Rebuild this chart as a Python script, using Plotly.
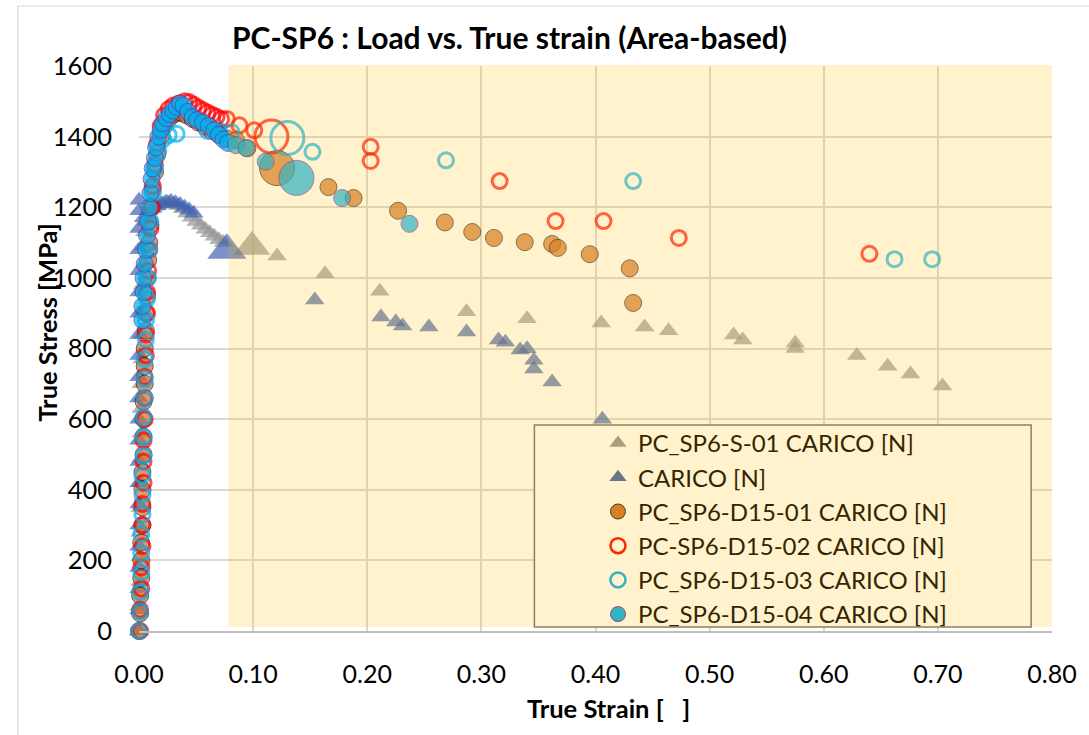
import plotly.graph_objects as go

# ---------------- data ----------------
s01_x = [0.000, 0.000, 0.001, 0.001, 0.001, 0.001, 0.002, 0.002, 0.002, 0.002, 0.002, 0.003, 0.003, 0.003,
         0.003, 0.004, 0.004, 0.005, 0.006, 0.008, 0.011, 0.014, 0.018, 0.022, 0.026, 0.030, 0.034, 0.038,
         0.042, 0.046, 0.050, 0.054, 0.058, 0.062, 0.066, 0.070, 0.074,
         0.099, 0.121, 0.163, 0.211, 0.287, 0.340, 0.405, 0.443, 0.464, 0.521, 0.529, 0.575, 0.575, 0.629,
         0.656, 0.676, 0.704]
s01_y = [0, 70, 140, 210, 280, 350, 420, 490, 560, 630, 700, 770, 840, 910,
         980, 1040, 1090, 1130, 1160, 1180, 1195, 1203, 1208, 1211, 1212, 1210, 1205, 1196,
         1184, 1172, 1160, 1149, 1138, 1128, 1118, 1108, 1100,
         1088, 1062, 1012, 962, 904, 884, 872, 861, 850, 838, 824, 815, 800, 780,
         750, 728, 694]

carico_x = [0.000, 0.000, 0.000, 0.000, 0.000, 0.000, 0.000, 0.000, 0.000, 0.000, 0.000, 0.000, 0.000,
            0.000, 0.000, 0.000, 0.000, 0.000, 0.000, 0.000, 0.000, 0.000,
            0.004, 0.008, 0.012, 0.016, 0.020, 0.024, 0.028, 0.032, 0.036, 0.040, 0.044, 0.048,
            0.077,
            0.154, 0.212, 0.225, 0.231, 0.254, 0.287, 0.315, 0.321, 0.334, 0.340, 0.346, 0.346, 0.362, 0.406]
carico_y = [0, 60, 120, 180, 240, 300, 360, 420, 480, 540, 600, 660, 720,
            780, 840, 900, 960, 1020, 1080, 1140, 1190, 1220,
            1170, 1190, 1198, 1204, 1210, 1215, 1216, 1213, 1208, 1200, 1192, 1183,
            1078,
            937, 889, 875, 864, 861, 847, 824, 818, 796, 799, 767, 742, 705, 600]

d1_x = [0.000, 0.001, 0.001, 0.002, 0.002, 0.002, 0.003, 0.003, 0.003, 0.003, 0.004, 0.004, 0.004, 0.004,
        0.005, 0.005, 0.005, 0.006, 0.006, 0.007, 0.007, 0.008, 0.009, 0.010, 0.011, 0.012, 0.014, 0.016,
        0.019, 0.022, 0.026, 0.030, 0.034, 0.038, 0.042, 0.047, 0.052, 0.058, 0.064, 0.070, 0.077,
        0.085, 0.095, 0.121, 0.166, 0.188, 0.227, 0.268, 0.292, 0.311, 0.338, 0.362, 0.367, 0.395,
        0.430, 0.433]
d1_y = [0, 50, 100, 150, 200, 250, 300, 350, 400, 450, 500, 550, 600, 650,
        700, 750, 800, 850, 900, 950, 1000, 1050, 1100, 1150, 1200, 1250, 1300, 1350,
        1400, 1430, 1450, 1462, 1468, 1466, 1460, 1450, 1440, 1428, 1416, 1405, 1395,
        1390, 1367, 1311, 1257, 1226, 1190, 1157, 1130, 1113, 1101, 1096, 1085, 1067,
        1027, 929]

d2_x = [0.001, 0.001, 0.002, 0.002, 0.003, 0.003, 0.003, 0.004, 0.004, 0.004, 0.005, 0.005, 0.005, 0.006,
        0.006, 0.007, 0.007, 0.008, 0.009, 0.010, 0.011, 0.012, 0.014,
        0.016, 0.019, 0.022, 0.026, 0.030, 0.035, 0.040, 0.044, 0.048, 0.052, 0.056, 0.060, 0.064, 0.068,
        0.072, 0.077, 0.088, 0.101, 0.116,
        0.203, 0.203, 0.316, 0.365, 0.407, 0.473, 0.640]
d2_y = [0, 60, 120, 180, 240, 300, 360, 420, 480, 540, 600, 660, 720, 780,
        840, 900, 960, 1020, 1080, 1140, 1200, 1260, 1320,
        1380, 1430, 1460, 1478, 1488, 1494, 1500, 1498, 1490, 1482, 1475, 1468, 1462, 1456,
        1450, 1450, 1432, 1418, 1400,
        1371, 1331, 1274, 1161, 1161, 1113, 1068]

d3_x = [0.000, 0.001, 0.001, 0.002, 0.002, 0.002, 0.003, 0.003, 0.003, 0.004, 0.004, 0.004, 0.005, 0.005,
        0.005, 0.006, 0.006, 0.007, 0.008, 0.009, 0.010, 0.012,
        0.014, 0.017, 0.021, 0.026, 0.033, 0.060, 0.070, 0.081,
        0.130, 0.152, 0.269, 0.433, 0.662, 0.695]
d3_y = [0, 55, 110, 165, 220, 275, 330, 385, 440, 495, 550, 605, 660, 715,
        770, 825, 880, 940, 1000, 1080, 1160, 1240,
        1310, 1360, 1392, 1404, 1408, 1416, 1415, 1413,
        1396, 1357, 1333, 1274, 1053, 1053]

d4_x = [0.003, 0.003, 0.004, 0.004, 0.005, 0.006, 0.007, 0.008, 0.009, 0.010, 0.011, 0.012, 0.014, 0.015,
        0.017, 0.019, 0.021, 0.024, 0.027, 0.030, 0.033, 0.036, 0.039, 0.043, 0.047, 0.051, 0.056, 0.061,
        0.066, 0.070, 0.074, 0.078, 0.085, 0.094, 0.111, 0.138, 0.178, 0.237]
d4_y = [880, 920, 960, 1000, 1040, 1080, 1120, 1160, 1200, 1240, 1280, 1310, 1340, 1370,
        1400, 1420, 1438, 1452, 1464, 1474, 1484, 1494, 1488, 1470, 1455, 1447, 1440, 1430,
        1418, 1405, 1392, 1382, 1376, 1368, 1329, 1283, 1226, 1153]

series_names = ["PC_SP6-S-01 CARICO [N]", "CARICO [N]", "PC_SP6-D15-01 CARICO [N]",
                "PC-SP6-D15-02 CARICO [N]", "PC_SP6-D15-03 CARICO [N]", "PC_SP6-D15-04 CARICO [N]"]

x_ticks = [0.0, 0.1, 0.2, 0.3, 0.4, 0.5, 0.6, 0.7, 0.8]
y_ticks = [0, 200, 400, 600, 800, 1000, 1200, 1400, 1600]

# ---------------- style ----------------
FONT = "Lato"


def sizes(xs, big_x, base, big):
    s = [base] * len(xs)
    s[xs.index(big_x)] = big
    return s


series = [
    dict(x=s01_x, y=s01_y, big_x=0.099, base=17, big=32, symbol="triangle-up", color="#969696", line=dict(width=0)),
    dict(x=carico_x, y=carico_y, big_x=0.077, base=17, big=34, symbol="triangle-up", color="#4164AF", line=dict(width=0)),
    dict(x=d1_x, y=d1_y, big_x=0.121, base=17, big=35, symbol="circle", color="#CF702F", line=dict(width=1, color="#1f1f1f")),
    dict(x=d2_x, y=d2_y, big_x=0.116, base=15, big=33, symbol="circle-open", color="#FF0000", line=dict(width=3, color="#FF0000")),
    dict(x=d3_x, y=d3_y, big_x=0.130, base=15, big=33, symbol="circle-open", color="#00B0F0", line=dict(width=3, color="#00B0F0")),
    dict(x=d4_x, y=d4_y, big_x=0.138, base=17, big=35, symbol="circle", color="#00B0F0", line=dict(width=1, color="#7030A0")),
]

# colours as seen through the yellow overlay (used for legend keys)
legend_styles = [
    dict(symbol="triangle-up", color="#AB9E78", line=dict(width=0)),
    dict(symbol="triangle-up", color="#67768C", line=dict(width=0)),
    dict(symbol="circle", color="#D98026", line=dict(width=1, color="#4C3F19")),
    dict(symbol="circle-open", color="#FF2600", line=dict(width=2.5, color="#FF2600")),
    dict(symbol="circle-open", color="#33B3C0", line=dict(width=2.5, color="#33B3C0")),
    dict(symbol="circle", color="#33B3C0", line=dict(width=1, color="#8D4C80")),
]

fig = go.Figure()
for name, s in zip(series_names, series):
    fig.add_trace(go.Scatter(
        x=s["x"], y=s["y"], mode="markers", name=name, showlegend=False, cliponaxis=False,
        marker=dict(symbol=s["symbol"], size=sizes(s["x"], s["big_x"], s["base"], s["big"]),
                    color=s["color"], line=s["line"]),
        hoverinfo="x+y+name"))
for name, ls in zip(series_names, legend_styles):
    fig.add_trace(go.Scatter(
        x=[None], y=[None], mode="markers", name=name, showlegend=True,
        marker=dict(symbol=ls["symbol"], size=15, color=ls["color"], line=ls["line"])))

W, H = 1089, 735
L, R, T, B = 139, 31, 66, 104
pw, ph = W - L - R, H - T - B


def px(xp):
    return (xp - L) / pw


def py(yp):
    return (H - B - yp) / ph


grid = "#d9d9d9"
fig.update_layout(
    width=W, height=H,
    margin=dict(l=L, r=R, t=T, b=B, pad=0),
    paper_bgcolor="white", plot_bgcolor="white",
    font=dict(family=FONT, size=25, color="black"),
    showlegend=True,
    legend=dict(x=px(601), y=py(421), xanchor="left", yanchor="top",
                bgcolor="rgba(0,0,0,0)", borderwidth=0,
                font=dict(family=FONT, size=24, color="#332600"),
                itemsizing="trace", tracegroupgap=0),
    xaxis=dict(range=[0, 0.8], tickvals=x_ticks, ticktext=[f"{v:.2f}" for v in x_ticks],
               showgrid=True, gridcolor=grid, gridwidth=1.5, zeroline=False,
               showline=True, linecolor="#bfbfbf", linewidth=1.5, ticks="",
               ticklabelstandoff=20, tickfont=dict(family=FONT, size=25, color="black")),
    yaxis=dict(range=[0, 1600], tickvals=y_ticks, showgrid=True, gridcolor=grid, gridwidth=1.5,
               zeroline=False, showline=False, ticks="", ticklabelstandoff=26,
               tickfont=dict(family=FONT, size=25.5, color="black")),
    shapes=[
        # translucent yellow overlay
        dict(type="rect", xref="paper", yref="paper", x0=px(229), x1=1.0, y0=py(627), y1=py(65),
             fillcolor="rgba(255,192,0,0.2)", line=dict(width=0), layer="above"),
        # legend box
        dict(type="rect", xref="paper", yref="paper", x0=px(537), x1=px(1037), y0=py(627), y1=py(425),
             fillcolor="#FFF2CC", line=dict(width=1.5, color="#8f8160"), layer="above"),
        # chart area border
        dict(type="rect", xref="paper", yref="paper", x0=px(17), x1=px(1200), y0=py(800), y1=py(6),
             fillcolor="rgba(0,0,0,0)", line=dict(width=1.2, color="#d9d9d9"), layer="below"),
    ],
    annotations=[
        dict(text="<b>PC-SP6 : Load vs. True strain (Area-based)</b>", xref="paper", yref="paper",
             x=px(512), y=py(37), xanchor="center", yanchor="middle", showarrow=False,
             font=dict(family=FONT, size=30, color="black")),
        dict(text="<b>True Strain [\u00a0\u00a0\u00a0]</b>", xref="paper", yref="paper",
             x=px(612), y=py(708), xanchor="center", yanchor="middle", showarrow=False,
             font=dict(family=FONT, size=25.5, color="black")),
        dict(text="<b>True Stress [MPa]</b>", xref="paper", yref="paper", textangle=-90,
             x=px(46), y=py(323), xanchor="center", yanchor="middle", showarrow=False,
             font=dict(family=FONT, size=25.5, color="black")),
    ],
)

fig.write_html("out.html")
